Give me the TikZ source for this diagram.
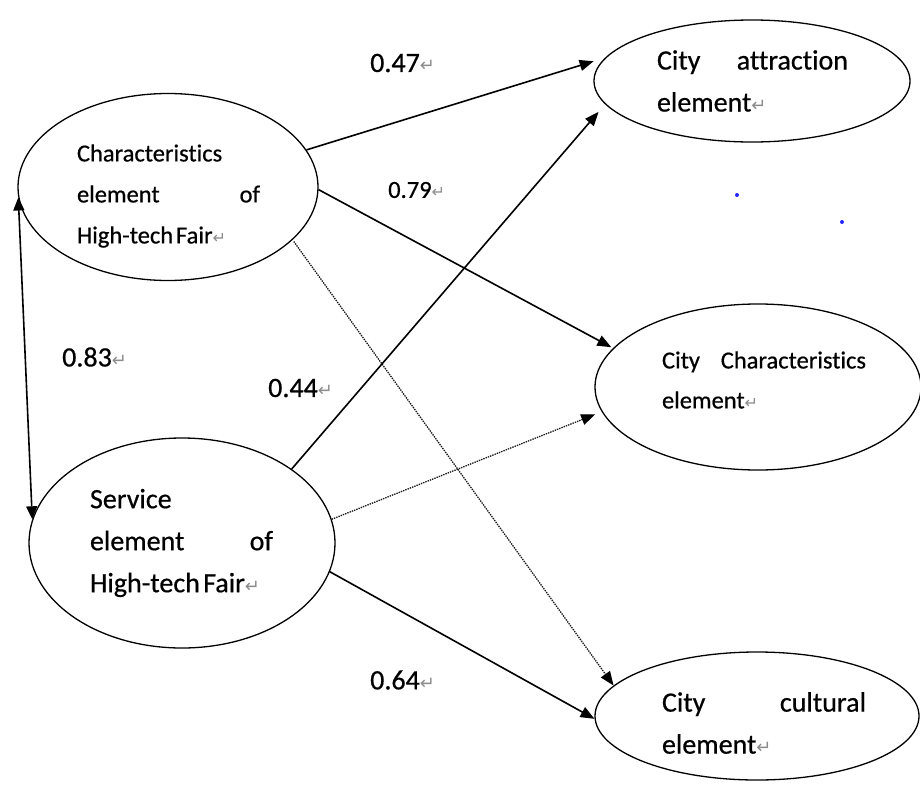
\documentclass[tikz,border=0pt]{standalone}
\usepackage{fontspec}
\setmainfont[FakeBold=0.6,AutoFakeBold=false,Ligatures={NoCommon}]{Carlito}
\newfontfamily\markfont{DejaVu Sans}
\usetikzlibrary{shapes.geometric,arrows.meta}
% paragraph mark after each text, in light gray
\newcommand\pmark[1]{{\markfont\color{black!45}\fontsize{#1}{#1}\selectfont ↵}}
% slightly narrow word space
\newcommand\nsp{\hspace{0.12em}}

\tikzset{
  latent/.style={ellipse, draw, line width=1.3pt, inner sep=0pt},
  bigtext/.style={font=\fontsize{28}{42}\selectfont, inner sep=0pt, align=left},
  smalltext/.style={font=\fontsize{24.5}{41}\selectfont, inner sep=0pt, align=left},
  tip/.style={-{Triangle[length=14pt,width=11pt,color=black]}},
  strongpath/.style={line width=1.6pt, tip},
  weakpath/.style={line width=1.3pt, black!90, dash pattern=on 1.4pt off 1pt, tip},
  corr/.style={line width=1.6pt,
    {Triangle[length=13pt,width=11pt]}-{Triangle[length=13pt,width=11pt]}},
}

\begin{document}
\begin{tikzpicture}[x={(1pt,0pt)}, y={(0pt,-1pt)}]
\useasboundingbox (0,0) rectangle (920,784);

% latent variables
\node[latent, minimum width=300pt, minimum height=187pt] (e1) at (168,187) {};
\node[latent, minimum width=306pt, minimum height=210pt] (e2) at (182,543) {};
\node[latent, minimum width=316pt, minimum height=122pt] (e3) at (752,81) {};
\node[latent, minimum width=326pt, minimum height=166pt] (e4) at (758,387) {};
\node[latent, minimum width=324pt, minimum height=128pt] (e5) at (757,716) {};

% their labels
\node[smalltext, text width=183pt] (t1) at (168.5,196)
  {Characteristics\\element\hfill of\\High-tech\nsp Fair\pmark{16}};
\node[bigtext, text width=183pt] (t2) at (181.5,543)
  {Service\\element\hfill of\\High-tech\nsp Fair\pmark{18}};
\node[bigtext, text width=191pt] (t3) at (752.5,81)
  {City\hfill attraction\\element\pmark{18}};
\node[smalltext, text width=204pt, font=\fontsize{24.5}{40}\selectfont] (t4) at (764,380)
  {City\hfill Characteristics\\element\pmark{16}};
\node[bigtext, text width=204pt] (t5) at (764,723)
  {City\hfill cultural\\element\pmark{18}};

% path coefficients
\node[bigtext, anchor=west] (w47) at (370,63) {0.47\pmark{18}};
\node[smalltext, anchor=west] (w79) at (388,190) {0.79\pmark{16}};
\node[bigtext, anchor=west] (w83) at (62,357) {0.83\pmark{18}};
\node[bigtext, anchor=west] (w44) at (268,388) {0.44\pmark{18}};
\node[bigtext, anchor=west] (w64) at (370,680) {0.64\pmark{18}};

% structural paths
\draw[strongpath, shorten >=12pt] (e1.15) -- (e3.171);
\draw[strongpath, shorten >=2pt] (e1.-1) -- (e4.165);
\draw[weakpath, shorten <=2pt] (e1.-23) -- (e5.168);
\draw[strongpath, shorten >=10pt] (e2.34) -- (e3.189);
\draw[weakpath, shorten >=7pt] (e2.9) -- (e4.189);
\draw[strongpath] (e2.-11) -- (e5.181);
\draw[corr] (e1.184) -- (e2.171);

% two stray blue dots
\fill[blue!85] (737,195) circle[radius=2pt];
\fill[blue!85] (842,222) circle[radius=2pt];
\end{tikzpicture}
\end{document}
